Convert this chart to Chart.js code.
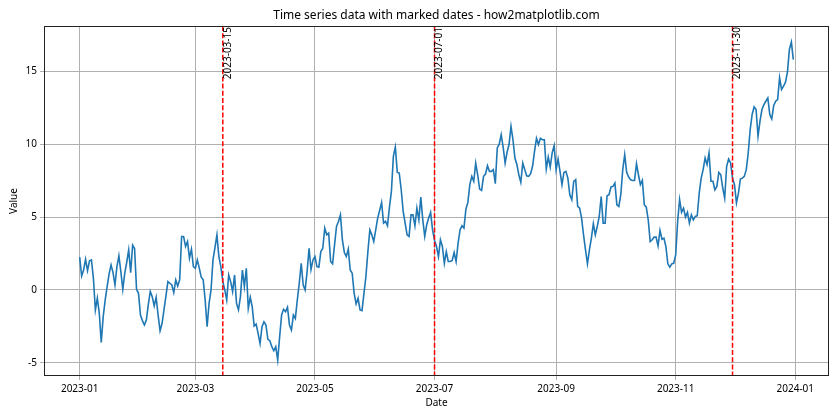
<!DOCTYPE html>
<html>
<head>
<meta charset="utf-8">
<script src="https://cdn.jsdelivr.net/npm/chart.js@4.4.0/dist/chart.umd.min.js"></script>
<style>
  html, body { margin: 0; padding: 0; background: #fff; }
  canvas { display: block; }
</style>
</head>
<body>
<canvas id="timeSeriesChart" width="840" height="420"></canvas>
<script>
'use strict'

// one value per day, 2023-01-01 .. 2023-12-31 (index = day of year)
let values = [
    2.25, 0.96, 1.37, 2.1, 1.33, 2.0, 2.06, 0.8, -1.37, -0.57,
    -1.6, -3.6, -1.83, -0.7, 0.23, 1.1, 1.72, 1.19, 0.34, 1.6,
    2.34, 1.26, 0.05, 1.15, 1.9, 2.75, 1.19, 3.07, 2.84, 0.05,
    -0.23, -1.72, -2.1, -2.4, -2.06, -1.0, -0.1, -0.46, -1.1, -0.5,
    -1.72, -2.8, -2.3, -1.37, -0.4, 0.57, 0.46, 0.34, -0.18, 0.69,
    0.27, 0.69, 3.67, 3.67, 2.98, 3.32, 2.18, 2.8, 1.6, 1.49,
    2.06, 1.5, 0.87, 0.69, -0.69, -2.52, -0.92, 0.0, 2.06, 2.9,
    3.78, 2.29, 1.6, 0.57, 0.0, -0.69, 1.03, 0.57, -0.11, 1.03,
    -0.92, -1.37, -0.46, 1.37, 0.23, 1.49, -1.26, -0.5, -1.15, -2.47,
    -2.34, -2.98, -3.67, -2.52, -2.18, -2.4, -3.39, -3.48, -3.89, -4.17,
    -3.89, -4.81, -3.2, -1.72, -1.33, -1.49, -1.19, -2.4, -2.75, -1.72,
    -1.95, -0.69, 0.46, 1.83, 0.34, 0.0, 1.26, 2.86, 1.4, 2.06,
    2.29, 1.6, 1.56, 2.63, 2.86, 4.24, 3.78, 3.9, 1.95, 1.79,
    3.09, 4.35, 4.7, 5.15, 3.44, 2.57, 2.29, 2.8, 1.37, 1.15,
    -0.23, -0.96, -0.57, -1.37, -1.42, -0.23, 0.92, 2.63, 4.12, 3.78,
    3.32, 4.12, 4.93, 5.45, 6.0, 4.58, 4.7, 4.4, 5.68, 6.76,
    9.16, 9.8, 8.06, 8.02, 6.87, 5.38, 4.58, 3.78, 3.67, 5.15,
    5.15, 4.4, 5.61, 4.81, 6.37, 4.81, 3.67, 4.47, 4.93, 5.32,
    4.1, 3.4, 2.98, 2.29, 3.44, 2.98, 1.83, 2.63, 1.95, 1.95,
    2.02, 2.57, 1.95, 3.2, 4.12, 4.4, 4.24, 5.54, 6.0, 7.22,
    7.79, 7.45, 8.7, 7.9, 6.92, 6.83, 7.79, 7.95, 8.52, 8.13,
    8.13, 8.25, 7.29, 9.74, 10.0, 10.65, 9.8, 8.7, 9.44, 9.97,
    11.22, 10.3, 9.05, 8.6, 7.9, 7.38, 8.7, 8.25, 7.83, 7.79,
    7.97, 8.48, 9.5, 10.4, 9.97, 10.4, 10.3, 10.3, 8.29, 9.12,
    8.43, 9.4, 9.9, 8.25, 8.98, 8.13, 7.22, 8.06, 8.13, 7.67,
    6.53, 6.19, 7.45, 7.56, 5.73, 5.61, 4.93, 3.78, 2.75, 1.79,
    2.75, 3.55, 4.54, 3.78, 4.35, 5.04, 6.41, 4.58, 4.58, 6.46,
    6.53, 7.06, 7.1, 7.33, 5.84, 5.73, 6.53, 8.25, 9.28, 8.06,
    7.74, 7.56, 7.51, 7.51, 8.66, 7.9, 7.22, 7.51, 5.84, 5.68,
    4.81, 3.32, 3.44, 3.62, 3.62, 3.02, 4.08, 3.48, 3.55, 2.98,
    1.79, 1.56, 1.79, 1.83, 2.4, 4.7, 6.2, 5.32, 5.61, 5.0,
    5.32, 4.58, 5.15, 4.81, 5.04, 5.09, 6.64, 7.67, 8.25, 9.05,
    8.6, 9.39, 7.45, 7.45, 6.87, 7.1, 8.06, 7.9, 6.99, 6.3,
    8.48, 8.98, 8.71, 7.67, 7.22, 5.96, 6.64, 7.6, 7.67, 7.79,
    8.25, 9.39, 11.0, 12.03, 12.55, 12.37, 10.54, 11.57, 12.37, 12.71,
    12.94, 13.17, 12.03, 11.73, 12.65, 12.94, 13.06, 14.55, 13.75, 13.97,
    14.25, 14.94, 16.5, 17.0, 15.8
];

// x ticks: day of year -> label
let tickDays = [0, 59, 120, 181, 243, 304, 365];
let tickLabels = ['2023-01', '2023-03', '2023-05', '2023-07', '2023-09', '2023-11', '2024-01'];
let yTicks = [-5, 0, 5, 10, 15];

// dates marked with a dashed line
let markedDays = [73, 181, 333];
let markedLabels = ['2023-03-15', '2023-07-01', '2023-11-30'];

Chart.defaults.font.family = "'Noto Sans', 'DejaVu Sans', sans-serif";
Chart.defaults.font.size = 10;
Chart.defaults.color = '#000';

const markedDatesPlugin = {
    id: 'markedDates',
    afterDatasetsDraw(chart) {
        const {ctx, chartArea, scales} = chart;
        ctx.save();

        markedDays.forEach((day, i) => {
            const px = scales.x.getPixelForValue(day);
            ctx.strokeStyle = 'red';
            ctx.lineWidth = 1.5;
            ctx.setLineDash([5, 2.2]);
            ctx.beginPath();
            ctx.moveTo(px, chartArea.top);
            ctx.lineTo(px, chartArea.bottom);
            ctx.stroke();

            ctx.setLineDash([]);
            ctx.translate(px, chartArea.top + 1);
            ctx.rotate(-Math.PI / 2);
            ctx.fillStyle = '#000';
            ctx.font = "10px 'Noto Sans', 'DejaVu Sans', sans-serif";
            ctx.textAlign = 'right';
            ctx.textBaseline = 'top';
            ctx.fillText(markedLabels[i], 0, 0);
            ctx.setTransform(1, 0, 0, 1, 0, 0);
        });

        // axes frame, snapped to whole pixels
        const l = Math.round(chartArea.left) + 0.5;
        const t = Math.round(chartArea.top) + 0.5;
        const r = Math.round(chartArea.right) - 0.5;
        const b = Math.round(chartArea.bottom) - 0.5;
        ctx.strokeStyle = '#222';
        ctx.lineWidth = 1;
        ctx.strokeRect(l, t, r - l, b - t);
        ctx.restore();
    }
};

const dataTimeSeries = {
    datasets: [
        {
            label: 'Value',
            data: values.map((v, i) => ({x: i, y: v})),
            borderColor: '#1f77b4',
            borderWidth: 1.6,
            pointRadius: 0,
            tension: 0,
            fill: false
        }
    ]
};

const configTimeSeries = {
    type: 'line',
    data: dataTimeSeries,
    options: {
        responsive: false,
        animation: false,
        layout: {padding: {left: 0, right: 11, top: 0, bottom: 0}},
        plugins: {
            legend: {display: false},
            tooltip: {enabled: false},
            title: {
                display: true,
                text: 'Time series data with marked dates - how2matplotlib.com',
                fullSize: false,
                font: {size: 12, weight: 'normal'},
                color: '#000',
                padding: {top: 8, bottom: 3.6}
            }
        },
        scales: {
            x: {
                type: 'linear',
                min: -18.2,
                max: 382.2,
                afterBuildTicks: scale => { scale.ticks = tickDays.map(v => ({value: v})); },
                afterFit: scale => { scale.height = 44; },
                ticks: {
                    callback: value => tickLabels[tickDays.indexOf(value)],
                    maxRotation: 0,
                    padding: 3,
                    color: '#000'
                },
                grid: {color: '#b0b0b0', lineWidth: 1, tickLength: 4},
                border: {display: false},
                title: {display: true, text: 'Date', font: {size: 10}, padding: {top: 0, bottom: 11}}
            },
            y: {
                min: -5.9,
                max: 18.1,
                afterBuildTicks: scale => { scale.ticks = yTicks.map(v => ({value: v})); },
                afterFit: scale => { scale.width = 44; },
                ticks: {padding: 3, color: '#000'},
                grid: {color: '#b0b0b0', lineWidth: 1, tickLength: 4},
                border: {display: false},
                title: {display: true, text: 'Value', font: {size: 10}, padding: {top: 8, bottom: 0}}
            }
        }
    },
    plugins: [markedDatesPlugin]
};

const chartTimeSeries = new Chart(
    document.getElementById('timeSeriesChart'),
    configTimeSeries
);
</script>
</body>
</html>
